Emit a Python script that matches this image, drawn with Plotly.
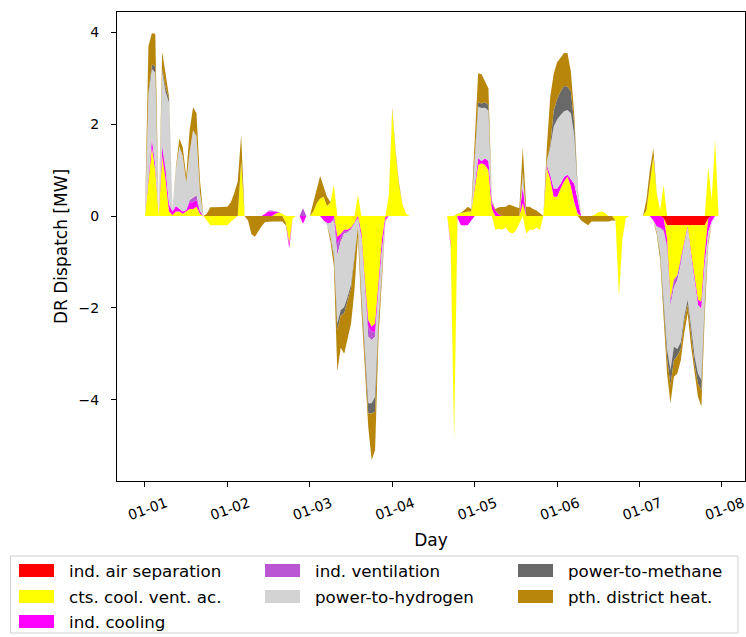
import numpy as np
import pandas as pd
import plotly.graph_objects as go

# Hourly demand-response dispatch [MW], one week, one row per day
hours = pd.date_range("2013-01-01 00:00", periods=168, freq="h")

air_separation = [
    0, 0, 0, 0, 0, 0, 0, 0, 0, 0, 0, 0, 0, 0, 0, 0, 0, 0, 0, 0, 0, 0, 0, 0,
    0, 0, 0, 0, 0, 0, 0, 0, 0, 0, 0, 0, 0, 0, 0, 0, 0, 0, 0, 0, 0, 0, 0, 0,
    0, 0, 0, 0, 0, 0, 0, 0, 0, 0, 0, 0, 0, 0, 0, 0, 0, 0, 0, 0, 0, 0, 0, 0,
    0, 0, 0, 0, 0, 0, 0, 0, 0, 0, 0, 0, 0, 0, 0, 0, 0, 0, 0, 0, 0, 0, 0, 0,
    0, 0, 0, 0, 0, 0, 0, 0, 0, 0, 0, 0, 0, 0, 0, 0, 0, 0, 0, 0, 0, 0, 0, 0,
    0, 0, 0, 0, 0, 0, 0, 0, 0, 0, 0, 0, 0, 0, 0, 0, 0, 0, 0, 0, 0, 0, 0, 0,
    0, 0, 0, 0, 0, 0, 0, -0.05, -0.2, -0.2, -0.2, -0.2, -0.2, -0.2, -0.2, -0.2, -0.2, -0.2, -0.2, -0.2, -0.05, 0, 0, 0,
]

cts_cool_vent_ac = [
    0, 0.75, 1.5, 1.0, 0, 1.3, 0.8, 0.1, 0.02, 0.1, 0.1, 0.05, 0.1, 0.15, 0.15, 0.2, 0.05, 0, -0.1, -0.2, -0.2, -0.2, -0.2, -0.2,
    -0.2, -0.12, -0.05, 0, 1.2, 0, 0, 0, 0, 0, 0, 0, 0, 0, 0.05, 0.08, 0.05, -0.15, -0.6, -0.05, 0, 0, 0, 0,
    0, 0.1, 0.28, 0.38, 0.42, 0.22, 0.3, 0.68, -0.45, -0.4, -0.3, -0.3, -0.25, -0.15, 0.46, -0.38, -1.4, -2.27, -2.41, -2.34, -1.47, -0.52, -0.02, 0.45,
    2.32, 1.35, 0.65, 0.25, 0.05, 0, 0, 0, 0, 0, 0, 0, 0, 0, 0, 0, 0, -0.6, -4.88, 0.05, 0.07, 0.08, 0.1, 0.1,
    0.6, 1.11, 1.15, 1.11, 1.0, 0.15, -0.3, -0.28, -0.3, -0.25, -0.35, -0.38, -0.32, -0.15, 0.28, -0.38, -0.3, -0.3, -0.25, -0.3, 0, 1.05, 0.8, 0.42,
    0.42, 0.6, 0.75, 0.86, 0.65, 0.3, 0.05, 0, 0, 0, 0, 0.03, 0.08, 0.1, 0.06, 0, 0, -0.1, -1.76, -0.5, -0.05, 0, 0, 0,
    0, 0, 0.13, 0.78, 1.29, 0.5, 0.12, 0.68, -0.3, -1.63, -1.19, -1.09, -0.76, -0.4, -0.03, -0.61, -1.12, -1.63, -1.67, -0.61, 1.07, 0.35, 1.66, 0,
]

ind_cooling = [
    0, 0.05, 0.15, 0.1, 0, 0.2, 0.2, 0.15, 0.08, 0.12, 0.05, 0.05, 0.03, 0.15, 0.15, 0.15, 0.05, 0, 0, 0, 0, 0, 0, 0,
    0, 0, 0, 0, 0, 0, 0, 0, 0, 0, 0, 0.05, 0.1, 0.1, 0.05, 0, 0, 0, -0.1, 0, 0, 0, -0.17, 0,
    0, 0, 0, 0, -0.1, -0.15, -0.15, -0.05, -0.15, -0.05, -0.03, -0.03, -0.02, -0.02, -0.05, -0.1, -0.1, -0.14, -0.11, -0.18, -0.14, -0.22, -0.07, 0,
    0, 0, 0, 0, 0, 0, 0, 0, 0, 0, 0, 0, 0, 0, 0, 0, 0, -0.07, 0, -0.05, -0.2, -0.2, -0.2, -0.1,
    0.05, 0.15, 0.05, 0.15, 0.2, 0.15, 0.12, 0.04, 0, 0, 0, 0, 0, 0, 0.36, 0, 0, 0, 0, 0, 0, 0.05, 0.1, 0.18,
    0.18, 0.1, 0.1, 0.04, 0.15, 0.4, 0.3, 0, 0, 0, 0, 0, 0, 0, 0, 0, 0, 0, 0, 0, 0, 0, 0, 0,
    0, 0, 0, 0, -0.1, -0.23, -0.25, -0.25, -0.15, -0.03, -0.02, 0, -0.02, -0.05, -0.03, -0.07, -0.11, -0.11, -0.15, -0.22, -0.3, -0.12, 0, 0,
]

ind_ventilation = [
    0, 0, 0.05, 0.02, 0, 0.05, 0.05, 0.02, 0, 0, 0, 0, 0, 0.05, 0.1, 0.1, 0.02, 0, 0, 0, 0, 0, 0, 0,
    0, 0, 0, 0, 0, 0, 0, 0, 0, 0, 0, 0, 0.02, 0.02, 0, 0, 0, 0, 0, 0, 0, 0, 0.17, 0,
    0, 0, 0, 0, 0, 0, 0, -0.05, -0.25, -0.1, -0.05, -0.03, -0.02, 0, 0, -0.02, -0.05, -0.22, -0.18, -0.11, -0.03, 0, 0, 0,
    0, 0, 0, 0, 0, 0, 0, 0, 0, 0, 0, 0, 0, 0, 0, 0, 0, 0, 0, 0, 0, 0, 0, 0,
    0, 0, 0, 0, 0, 0, 0, 0, 0, 0, 0, 0, 0, 0, 0, 0, 0, 0, 0, 0, 0, 0, 0, 0,
    0, 0, 0, 0, 0, 0, 0, 0, 0, 0, 0, 0, 0, 0, 0, 0, 0, 0, 0, 0, 0, 0, 0, 0,
    0, 0, 0, 0, 0, 0, -0.02, -0.03, -0.05, -0.1, -0.15, -0.11, -0.07, 0, 0, 0, 0, 0, 0, 0, 0, 0, 0, 0,
]

power_to_hydrogen = [
    0, 1.85, 1.5, 2.0, 0, 1.6, 1.65, 2.2, 0.05, 0.8, 1.37, 1.2, 0.6, 1.05, 1.47, 1.29, 0.4, 0, 0, 0, 0, 0, 0, 0,
    0, 0, 0, 0, 0, 0, 0, 0, 0, 0, 0, 0, 0, 0, 0, 0, 0, 0, 0, 0, 0, 0, 0, 0,
    0, 0, 0, 0, 0, -0.05, -0.3, -0.75, -1.5, -1.5, -1.6, -1.4, -1.2, -0.7, -0.2, -1.2, -1.37, -1.45, -1.38, -1.31, -0.63, -0.36, -0.02, 0,
    0, 0, 0, 0, 0, 0, 0, 0, 0, 0, 0, 0, 0, 0, 0, 0, 0, 0, 0, 0, 0, 0, 0, 0,
    0.6, 1.12, 1.15, 1.1, 1.1, 0.02, 0, 0, 0, 0, 0, 0, 0, 0, 0.3, 0, 0, 0, 0, 0, 0, 0.1, 0.6, 1.35,
    1.5, 1.5, 1.43, 1.41, 1.44, 1.05, 0.2, 0, 0, 0, 0, 0, 0, 0, 0, 0, 0, 0, 0, 0, 0, 0, 0, 0,
    0, 0, 0, 0, -0.02, -0.12, -0.55, -1.5, -2.2, -1.4, -1.29, -1.5, -1.7, -1.55, -1.57, -1.53, -1.62, -1.49, -1.56, -0.8, -0.2, -0.03, 0, 0,
]

power_to_methane = [
    0, 0.05, 0.1, 0.15, 0, 0.05, 0.1, 0.08, 0, 0, 0, 0, 0, 0, 0, 0, 0, 0, 0, 0, 0, 0, 0, 0,
    0, 0, 0, 0, 0, 0, 0, 0, 0, 0, 0, 0, 0, 0, 0, 0, 0, 0, 0, 0, 0, 0, 0, 0,
    0, 0, 0, 0, 0, 0, 0, -0.05, -0.14, -0.12, -0.14, -0.1, -0.08, -0.05, 0, -0.05, -0.1, -0.22, -0.22, -0.32, -0.07, -0.03, 0, 0,
    0, 0, 0, 0, 0, 0, 0, 0, 0, 0, 0, 0, 0, 0, 0, 0, 0, 0, 0, 0, 0, 0, 0, 0,
    0.03, 0.1, 0.1, 0.12, 0.12, 0, 0, 0, 0, 0, 0, 0, 0, 0, 0.02, 0, 0, 0, 0, 0, 0, 0, 0.05, 0.35,
    0.45, 0.51, 0.55, 0.51, 0.47, 0.25, 0.02, 0, 0, 0, 0, 0, 0, 0, 0, 0, 0, 0, 0, 0, 0, 0, 0, 0,
    0, 0, 0, 0, 0, 0, -0.04, -0.1, -0.2, -0.32, -0.29, -0.15, -0.15, -0.08, -0.1, -0.15, -0.18, -0.22, -0.22, -0.07, 0, 0, 0, 0,
]

pth_district_heat = [
    0, 1.0, 0.68, 0.7, 0, 0.38, 0.3, 0.05, 0, 0.05, 0.17, 0.2, 0.13, 0.47, 0.5, 0.5, 0.26, 0, 0.05, 0.19, 0.19, 0.19, 0.19, 0.19,
    0.2, 0.3, 0.5, 0.75, 0.56, 0, -0.1, -0.4, -0.45, -0.32, -0.22, -0.13, -0.12, -0.12, -0.12, -0.12, -0.12, -0.05, 0, 0, 0, 0, 0, 0,
    0, 0.18, 0.32, 0.49, 0.22, 0.2, -0.1, -0.2, -0.9, -0.7, -0.88, -0.84, -0.77, -0.68, -0.2, -0.25, -0.23, -0.29, -1.02, -0.84, -0.29, -0.12, -0.01, 0,
    0.05, 0.05, 0.05, 0, 0, 0, 0, 0, 0, 0, 0, 0, 0, 0, 0, 0, 0, 0, 0, 0, 0, 0.05, 0.1, 0.05,
    0.4, 0.63, 0.64, 0.47, 0.36, 0.02, 0.03, 0.15, 0.2, 0.2, 0.25, 0.22, 0.2, 0.17, 0.53, 0.2, 0.2, 0.15, 0.12, 0.05, 0, 0.3, 1.05, 0.8,
    0.8, 0.74, 0.72, 0.73, 0.44, 0.2, 0.03, -0.1, -0.15, -0.2, -0.12, -0.12, -0.12, -0.12, -0.12, -0.12, -0.1, 0, 0, 0, 0, 0, 0, 0,
    0, 0, 0.22, 0.22, 0.18, -0.05, -0.1, -0.2, -0.33, -0.4, -0.36, -0.38, -0.24, -0.28, -0.19, -0.29, -0.2, -0.29, -0.35, -0.22, -0.08, 0, 0, 0,
]

series_names = [
    "ind. air separation",
    "cts. cool. vent. ac.",
    "ind. cooling",
    "ind. ventilation",
    "power-to-hydrogen",
    "power-to-methane",
    "pth. district heat.",
]
series_values = [
    air_separation,
    cts_cool_vent_ac,
    ind_cooling,
    ind_ventilation,
    power_to_hydrogen,
    power_to_methane,
    pth_district_heat,
]
series_colors = [
    "#ff0000",
    "#ffff00",
    "#ff00ff",
    "#ba55d3",
    "#d3d3d3",
    "#696969",
    "#b8860b",
]

W, H = 746, 637
L, R, T, B = 117, 745, 12, 481  # plot-area edges in pixels


def px_x(px):
    return (px - L) / (R - L)


def px_y(py):
    return (B - py) / (B - T)


fig = go.Figure()
for name, vals, color in zip(series_names, series_values, series_colors):
    v = np.asarray(vals, dtype=float)
    # positive and negative parts are stacked separately
    for group, part in (("pos", np.clip(v, 0, None)), ("neg", np.clip(v, None, 0))):
        fig.add_trace(
            go.Scatter(
                x=hours,
                y=part,
                name=name,
                mode="lines",
                stackgroup=group,
                line=dict(width=0, color=color),
                fillcolor=color,
                showlegend=False,
                hoverinfo="skip",
            )
        )

font = dict(family="DejaVu Sans", size=14, color="black")
legend_font = dict(family="DejaVu Sans", size=16.7, color="black")

# legend below the axes: 3 columns filled column by column (3 + 2 + 2 entries)
n_cols = 3
per_col = [3, 2, 2]
slots = [(c, r) for c in range(n_cols) for r in range(per_col[c])]
col_x = [19, 265, 518]
row_y = [570.5, 596.5, 621.5]

shapes = [
    dict(
        type="rect", xref="paper", yref="paper",
        x0=px_x(10.5), x1=px_x(738), y0=px_y(556), y1=px_y(633),
        line=dict(color="#d0d0d0", width=1), fillcolor="white", layer="above",
    )
]
annotations = []
for (c, r), name, color in zip(slots, series_names, series_colors):
    x0, yc = col_x[c], row_y[r]
    shapes.append(
        dict(
            type="rect", xref="paper", yref="paper",
            x0=px_x(x0), x1=px_x(x0 + 35), y0=px_y(yc + 6.5), y1=px_y(yc - 6.5),
            line=dict(width=0), fillcolor=color, layer="above",
        )
    )
    annotations.append(
        dict(
            text=name, xref="paper", yref="paper",
            x=px_x(x0 + 48), y=px_y(yc), xanchor="left", yanchor="middle",
            showarrow=False, font=legend_font,
        )
    )

fig.update_layout(
    width=W,
    height=H,
    margin=dict(l=L, r=W - R, t=T, b=H - B, autoexpand=False),
    plot_bgcolor="white",
    paper_bgcolor="white",
    font=font,
    showlegend=False,
    shapes=shapes,
    annotations=annotations,
)
fig.update_xaxes(
    type="date",
    range=["2012-12-31 15:51", "2013-01-08 06:42"],
    tick0="2013-01-01",
    dtick=86400000,
    tickformat="%m-%d",
    tickangle=-20,
    ticklabelshift=21,
    ticklabelstandoff=3,
    ticklabeloverflow="allow",
    ticks="outside",
    ticklen=5,
    tickcolor="black",
    showline=True,
    linecolor="black",
    linewidth=1,
    mirror=True,
    showgrid=False,
    zeroline=False,
    title=dict(text="Day", standoff=11),
)
fig.update_yaxes(
    range=[-5.773, 4.444],
    tickvals=[-4, -2, 0, 2, 4],
    ticks="outside",
    ticklen=5,
    tickcolor="black",
    ticklabelstandoff=9,
    showline=True,
    linecolor="black",
    linewidth=1,
    mirror=True,
    showgrid=False,
    zeroline=False,
    title=dict(text="DR Dispatch [MW]", standoff=6),
)

fig.write_html("out.html")
